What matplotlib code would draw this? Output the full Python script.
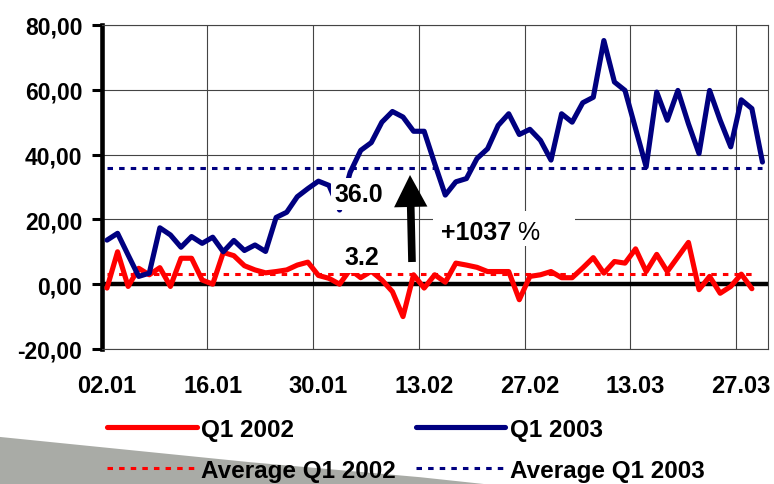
import matplotlib
matplotlib.use("Agg")
import matplotlib.pyplot as plt
from matplotlib.lines import Line2D
from matplotlib.patches import Polygon, Rectangle

plt.rcParams["font.family"] = ["Liberation Sans", "DejaVu Sans"]
plt.rcParams["font.weight"] = "bold"

# category axis: one slot per trading day, label every 10th day
tick_pos = [0, 10, 20, 30, 40, 50, 60]
tick_labels = ["02.01", "16.01", "30.01", "13.02", "27.02", "13.03", "27.03"]

y_ticks = [-20, 0, 20, 40, 60, 80]
y_labels = ["-20,00", "0,00", "20,00", "40,00", "60,00", "80,00"]

# daily values
q1_2002 = [-1.2, 10.0, -0.7, 4.9, 2.9, 5.1, -0.7, 8.0, 8.0, 1.3,
           0.0, 9.8, 8.8, 5.7, 4.4, 3.5, 3.9, 4.4, 5.9, 6.8,
           2.7, 1.8, 0.0, 4.5, 2.0, 4.0, 1.3, -2.3, -10.0, 2.9,
           -1.2, 2.9, 0.6, 6.5, 5.9, 5.2, 3.9, 3.9, 3.9, -4.8,
           2.4, 2.9, 3.9, 2.0, 2.0, 5.0, 8.2, 3.4, 7.0, 6.5,
           10.9, 3.9, 9.2, 3.9, 8.4, 12.9, -1.7, 2.4, -2.8, -0.7,
           3.1, -1.4]
q1_2003 = [13.6, 15.7, 9.0, 2.4, 3.4, 17.4, 15.2, 11.4, 14.7, 12.6,
           14.5, 10.0, 13.5, 10.4, 12.1, 10.1, 20.6, 22.2, 27.0, 29.5,
           31.8, 30.5, 22.9, 34.5, 41.3, 43.7, 50.0, 53.3, 51.6, 47.2,
           47.2, 37.2, 27.5, 31.6, 32.6, 38.8, 41.8, 49.0, 52.6, 46.2,
           47.8, 44.4, 38.3, 52.6, 50.0, 56.0, 57.7, 75.2, 62.4, 59.8,
           48.0, 36.2, 59.3, 50.6, 59.8, 49.5, 40.3, 59.8, 50.6, 42.4,
           56.9, 54.2, 37.7]

avg_2002 = 3.2
avg_2003 = 36.0
growth_text = "+1037"

RED = "#ff0000"
BLUE = "#000080"
GRID = "#444444"
DOTS = (1.8, 2.0)

fig = plt.figure(figsize=(7.74, 4.85), dpi=100)

# grey wedge in the lower left corner (slide decoration)
wedge = Polygon([(0, 0.097), (0.323, 0.045), (0.543, 0.014), (0.625, 0), (0, 0)],
                closed=True, transform=fig.transFigure, facecolor="#a9aba6",
                edgecolor="none", zorder=-1)
fig.patches.append(wedge)

ax = fig.add_axes([0.1314, 0.2784, 0.8605, 0.668])

x02 = list(range(len(q1_2002)))
x03 = list(range(len(q1_2003)))

ax.axhline(0, color="black", lw=3.2, zorder=2)

# average lines
ax.plot(x02, [avg_2002] * len(x02), color=RED, lw=2.2, dashes=DOTS, zorder=3)
ax.plot(x03, [avg_2003] * len(x03), color=BLUE, lw=2.2, dashes=DOTS, zorder=3)

# daily series
ax.plot(x02, q1_2002, color=RED, lw=3.7, solid_joinstyle="round",
        solid_capstyle="round", zorder=4)
ax.plot(x03, q1_2003, color=BLUE, lw=3.7, solid_joinstyle="round",
        solid_capstyle="round", zorder=4)

ax.set_xlim(-0.5, 62.5)
ax.set_ylim(-20, 80)

ax.set_xticks(tick_pos)
ax.set_xticklabels(tick_labels)
ax.set_xticks([p - 0.5 for p in tick_pos[1:]], minor=True)
ax.set_yticks(y_ticks)
ax.set_yticklabels(y_labels)

ax.grid(which="minor", axis="x", color=GRID, lw=0.8, zorder=1)
ax.grid(which="major", axis="y", color=GRID, lw=0.8, zorder=1)
ax.set_axisbelow(True)

ax.tick_params(axis="x", which="both", length=0, pad=18, labelsize=17)
ax.tick_params(axis="y", length=7, width=2.2, direction="out", pad=7,
               labelsize=16.5)

for side in ["top", "right", "bottom"]:
    ax.spines[side].set_color(GRID)
    ax.spines[side].set_linewidth(0.8)
ax.spines["left"].set_linewidth(3.3)
ax.spines["left"].set_color("black")

# value labels on white boxes
box = dict(boxstyle="square,pad=0.15", fc="white", ec="none")
ax.text(0.3863, 0.4568, f"{avg_2003:.1f}", transform=ax.transAxes, ha="center",
        va="baseline", fontsize=18, bbox=box, zorder=5)
ax.text(0.390, 0.2623, f"{avg_2002:.1f}", transform=ax.transAxes, ha="center",
        va="baseline", fontsize=18, bbox=box, zorder=5)

ax.add_patch(Rectangle((0.497, 0.318), 0.214, 0.108, transform=ax.transAxes,
                       fc="white", ec="none", zorder=4.5))
growth = ax.text(0.509, 0.3395, growth_text, transform=ax.transAxes, ha="left",
                 va="baseline", fontsize=18, zorder=5)
ax.annotate(" %", xy=(1, 0), xycoords=growth, ha="left", va="bottom",
            fontsize=18, fontweight="normal", zorder=5)

ax.annotate("", xy=(0.4629, 0.537), xytext=(0.4659, 0.2685),
            xycoords="axes fraction", textcoords="axes fraction",
            arrowprops=dict(arrowstyle="simple,head_length=23,head_width=24,tail_width=5.5",
                            mutation_scale=1, fc="black", ec="none",
                            shrinkA=0, shrinkB=0),
            zorder=6)

handles = [
    Line2D([], [], color=RED, lw=3.7, solid_capstyle="round"),
    Line2D([], [], color=RED, lw=2.2, dashes=DOTS),
    Line2D([], [], color=BLUE, lw=3.7, solid_capstyle="round"),
    Line2D([], [], color=BLUE, lw=2.2, dashes=DOTS),
]
labels = ["Q1 2002", "Average Q1 2002", "Q1 2003", "Average Q1 2003"]
fig.legend(handles, labels, loc="upper left", bbox_to_anchor=(0.138, 0.137),
           ncol=2, frameon=False, borderpad=0, borderaxespad=0,
           handlelength=3.7, handletextpad=0.19, columnspacing=0.8,
           labelspacing=0.75, prop=dict(weight="bold", size=17.5))

fig.savefig("out.png", dpi=100)
